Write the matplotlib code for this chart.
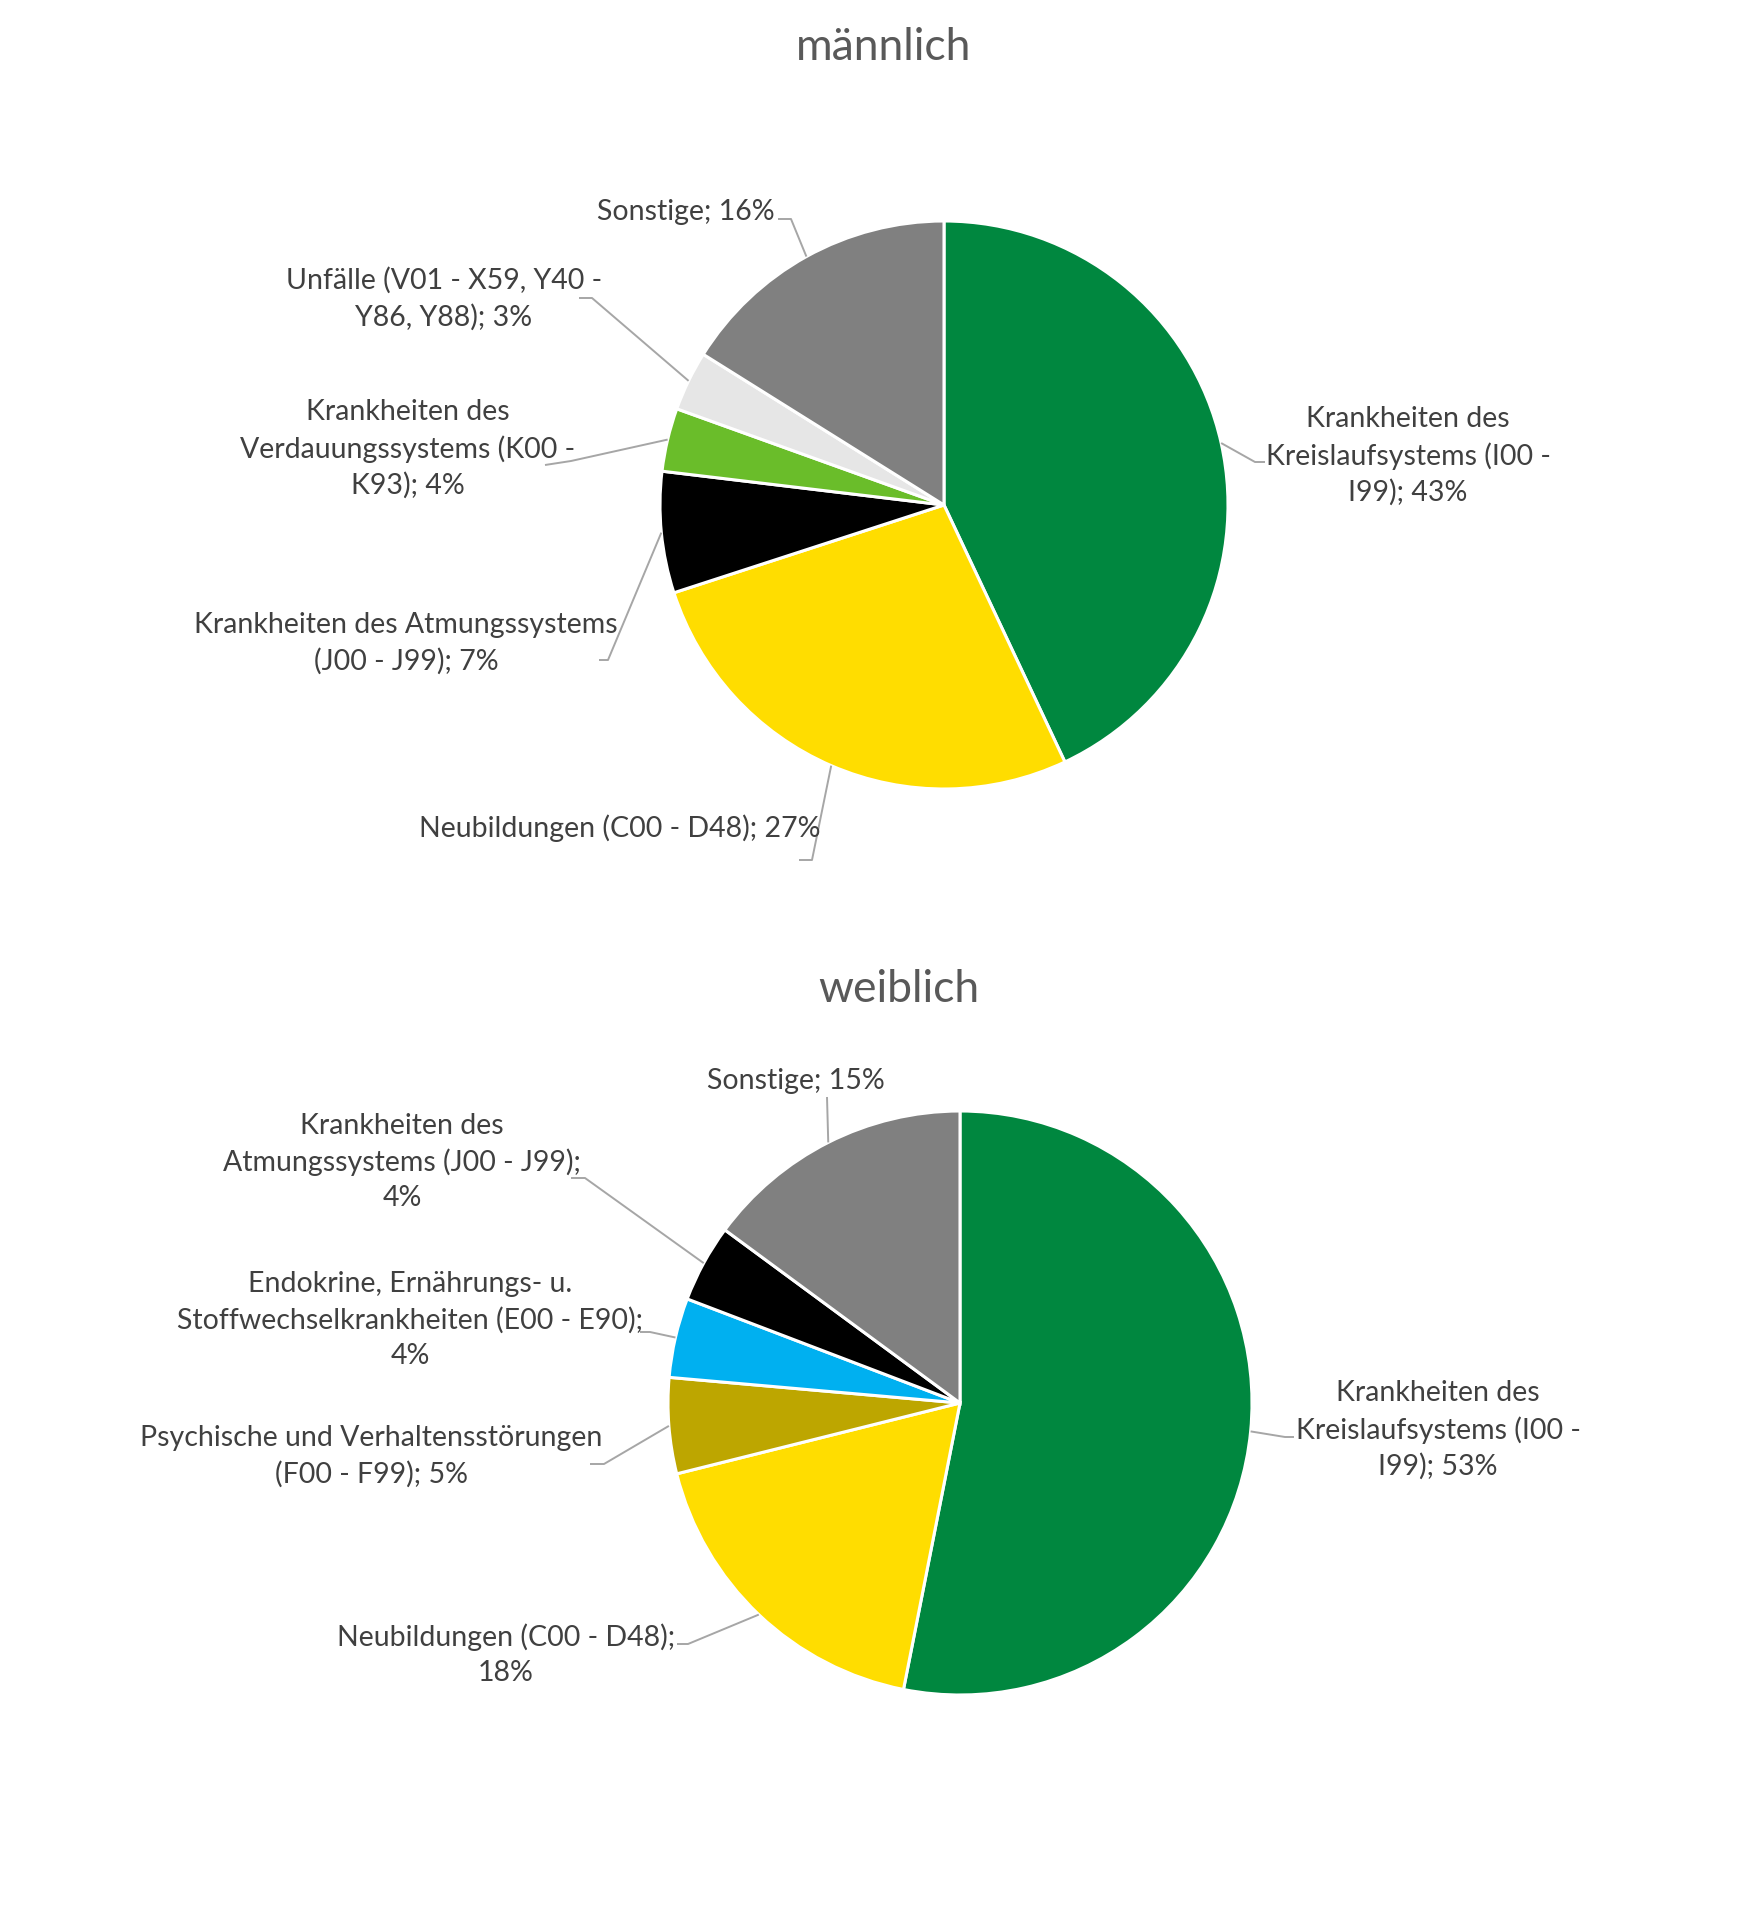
import matplotlib
matplotlib.use("Agg")
import matplotlib.pyplot as plt
import numpy as np

plt.rcParams['font.family'] = ['Lato', 'DejaVu Sans']

# --- Daten ---------------------------------------------------------------
m_labels = ["Krankheiten des\nKreislaufsystems (I00 -\nI99)",
            "Neubildungen (C00 - D48)",
            "Krankheiten des Atmungssystems\n(J00 - J99)",
            "Krankheiten des\nVerdauungssystems (K00 -\nK93)",
            "Unfälle (V01 - X59, Y40 -\nY86, Y88)",
            "Sonstige"]
m_values = [43.0, 27.0, 6.9, 3.6, 3.4, 16.1]
m_colors = ["#00873F", "#FFDD00", "#000000", "#6ABD2A", "#E6E6E6", "#808080"]

w_labels = ["Krankheiten des\nKreislaufsystems (I00 -\nI99)",
            "Neubildungen (C00 - D48);\n",
            "Psychische und Verhaltensstörungen\n(F00 - F99)",
            "Endokrine, Ernährungs- u.\nStoffwechselkrankheiten (E00 - E90);\n",
            "Krankheiten des\nAtmungssystems (J00 - J99);\n",
            "Sonstige"]
w_values = [53.1, 18.0, 5.3, 4.4, 4.3, 14.9]
w_colors = ["#00873F", "#FFDD00", "#BDA600", "#00B0F0", "#000000", "#808080"]

# --- Layout (Pixel, von oben) ----------------------------------------------
W, H = 1760, 1906
TXT = "#404040"
LEAD = "#A6A6A6"

# Label-Mitte, Knick der Führungslinie, Ende des kurzen Stummels
m_layout = [((1408, 456), (1255, 463), (1265, 463)),
            ((620, 828), (812, 861), (799, 861)),
            ((406, 643), (608, 661), (599, 661)),
            ((408, 449), (571, 462), (545, 466)),
            ((444, 299), (592, 299), (579, 299)),
            ((686, 212), (791, 220), (778, 220))]
w_layout = [((1438, 1430), (1285, 1438), (1294, 1438)),
            ((506, 1655), (688, 1645), (677, 1645)),
            ((371, 1456), (604, 1465), (590, 1465)),
            ((410, 1320), (650, 1333), (640, 1333)),
            ((402, 1162), (585, 1179), (571, 1179)),
            ((796, 1081), (827, 1098), (827, 1098))]

fig = plt.figure(figsize=(W / 100, H / 100), dpi=100)
ax = fig.add_axes([0, 0, 1, 1])


def draw_pie(values, colors, labels, layout, center, radius):
    wedges, _ = ax.pie(values, colors=colors, center=center, radius=radius,
                       startangle=-90, counterclock=True,
                       wedgeprops=dict(edgecolor="white", linewidth=2.2))
    for w, lab, val, (tpos, elbow, stub) in zip(wedges, labels, values, layout):
        mid = np.deg2rad((w.theta1 + w.theta2) / 2)
        px = w.center[0] + w.r * np.cos(mid)
        py = w.center[1] + w.r * np.sin(mid)
        ax.plot([px, elbow[0], stub[0]], [py, elbow[1], stub[1]],
                color=LEAD, lw=1.4, solid_capstyle="butt", zorder=1)
        sep = "" if lab.endswith("\n") else "; "
        ax.text(tpos[0], tpos[1], f"{lab}{sep}{round(val):.0f}%",
                ha="center", va="center", multialignment="center",
                fontsize=20.5, color=TXT, linespacing=1.44)


draw_pie(m_values, m_colors, m_labels, m_layout, (944, 506), 284)
draw_pie(w_values, w_colors, w_labels, w_layout, (960, 1404), 292)

ax.text(884, 47, "männlich", ha="center", va="center", fontsize=32, color="#595959")
ax.text(899, 990, "weiblich", ha="center", va="center", fontsize=32, color="#595959")

ax.set_xlim(0, W)
ax.set_ylim(H, 0)
ax.set_aspect("equal")
ax.axis("off")

fig.savefig("out.png", dpi=100, facecolor="white")
